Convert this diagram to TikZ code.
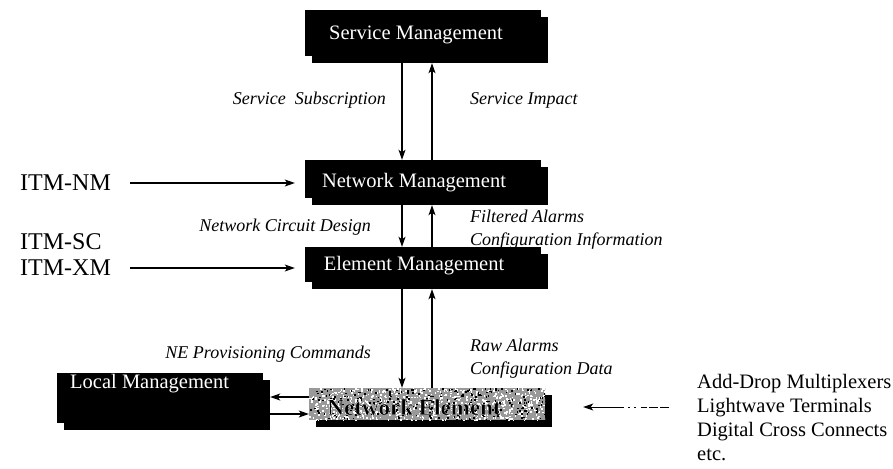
\documentclass[tikz,border=0pt]{standalone}
\usepackage{fontspec}
\setmainfont{Liberation Serif}
\usetikzlibrary{arrows.meta,shadows}
\newcommand{\halotext}[1]{%
  \special{pdf:literal direct 2 Tr 0.25 w 1 1 1 RG}#1\special{pdf:literal direct 0 Tr 1 w}}
\begin{document}
\begin{tikzpicture}[x=1pt,y=-1pt,
  box/.style={fill=black,draw=none,inner sep=0,minimum width=236pt,
    drop shadow={shadow xshift=7pt,shadow yshift=-7pt,fill=black,opacity=1}},
  boxtext/.style={text=white,font=\fontsize{20.5}{22}\selectfont,inner sep=0},
  lab/.style={font=\fontsize{18}{23.5}\selectfont\itshape,inner sep=0,align=left},
  itm/.style={font=\fontsize{24}{26}\selectfont,inner sep=0},
  arr/.style={-{Stealth[length=10pt,width=7pt,inset=2.5pt]},line width=1.1pt},
]
\useasboundingbox (0,0) rectangle (893,468);

% management boxes
\node[box,minimum height=46pt] (sm) at (423,33) {};
\node[boxtext] (smt) at (416,35) {Service Management};
\node[box,minimum height=38pt] (nm) at (423,179) {};
\node[boxtext] (nmt) at (414,183) {Network Management};
\node[box,minimum height=35pt] (em) at (423,264.5) {};
\node[boxtext] (emt) at (414,266) {Element Management};

% network element (textured)
\node[box,fill=black!40,minimum height=32pt,minimum width=236pt] (ne) at (427,404) {};
\begin{scope}
\clip (ne.south west) rectangle (ne.north east);
\pgfmathsetseed{7}
\foreach \i in {1,...,750}{
  \fill[white] ({427+118*rand},{404+16*rand}) rectangle +(1.6,1.6);
}
\foreach \i in {1,...,300}{
  \fill[black] ({427+118*rand},{404+16*rand}) rectangle +(1.6,1.6);
}
\end{scope}
\node[font=\fontsize{23}{24}\selectfont\bfseries,text=black,inner sep=0] (net) at (414,407) {\halotext{Network Element}};

% local management
\node[box,minimum width=206pt,minimum height=50pt] (lm) at (160,398) {};
\node[boxtext,anchor=west] (lmt) at (70,384) {Local Management};

% arrows between levels
\draw[arr] ([xshift=-21pt,yshift=-7pt]sm.south) -- ([xshift=-21pt]nm.north);
\draw[arr] ([xshift=9pt]nm.north) -- ([xshift=9pt,yshift=-7pt]sm.south);
\draw[arr] ([xshift=-21pt,yshift=-7pt]nm.south) -- ([xshift=-21pt]em.north);
\draw[arr] ([xshift=9pt]em.north) -- ([xshift=9pt,yshift=-7pt]nm.south);
\draw[arr] ([xshift=-21pt,yshift=-7pt]em.south) -- ([xshift=-25pt]ne.north);
\draw[arr] ([xshift=5pt]ne.north) -- ([xshift=9pt,yshift=-7pt]em.south);

% labels
\node[lab,anchor=east] (l1) at (386,100) {Service\ \ Subscription};
\node[lab,anchor=west] (l2) at (470,100) {Service Impact};
\node[lab,anchor=east] (l3) at (371,227) {Network Circuit Design};
\node[lab,anchor=west] (l4) at (470,229.5) {Filtered Alarms\\Configuration Information};
\node[lab,anchor=east] (l5) at (371,354) {NE Provisioning Commands};
\node[lab,anchor=west] (l6) at (470,358.5) {Raw Alarms\\Configuration Data};

% ITM labels
\node[itm,anchor=west] (itmnm) at (20,183) {ITM-NM};
\node[itm,anchor=west] (itmsc) at (20,242) {ITM-SC};
\node[itm,anchor=west] (itmxm) at (20,268) {ITM-XM};
\draw[arr,shorten <=19pt,shorten >=10pt] (itmnm.east) -- (itmnm.east -| nm.west);
\draw[arr,shorten <=19pt,shorten >=10pt] (itmxm.east) -- (itmxm.east -| em.west);

% local management <-> network element
\draw[arr] ([yshift=7pt]ne.west) -- ([xshift=7pt,yshift=7pt]ne.west -| lm.east);
\draw[arr] ([xshift=7pt,yshift=-10pt]ne.west -| lm.east) -- ([yshift=-10pt]ne.west);

% right list
\node[font=\fontsize{20.5}{24}\selectfont,align=left,inner sep=0,anchor=north west] (list) at (697,374) {Add-Drop Multiplexers\\Lightwave Terminals\\Digital Cross Connects\\etc.};
\coordinate (dtail) at (669,407);
\draw[arr,line width=1pt,shorten >=38pt,
  dash pattern=on 9pt off 2pt on 9pt off 2pt on 6pt off 5pt on 2pt off 4pt on 2pt off 4pt on 80pt]
  (dtail) -- (dtail -| ne.east);
\end{tikzpicture}
\end{document}
